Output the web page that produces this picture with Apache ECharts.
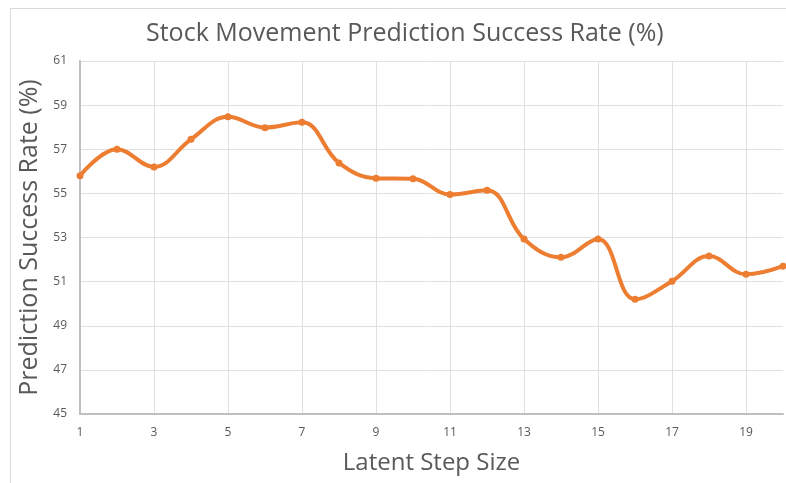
<!DOCTYPE html>
<html>
<head>
<meta charset="utf-8">
<script src="https://cdn.jsdelivr.net/npm/echarts@6/dist/echarts.min.js"></script>
<style>
  html, body { margin: 0; padding: 0; background: #fff; }
  #chart { width: 786px; height: 483px; }
</style>
</head>
<body>
<div id="chart"></div>
<script>
// latent step sizes 1..20
const stepSizes = ['1', '2', '3', '4', '5', '6', '7', '8', '9', '10',
  '11', '12', '13', '14', '15', '16', '17', '18', '19', '20'];
// success rate
const successRate = [55.8, 57.0, 56.2, 57.45, 58.47, 57.98, 58.22, 56.38, 55.69, 55.66,
  54.95, 55.14, 52.93, 52.1, 52.93, 50.2, 51.02, 52.16, 51.33, 51.7];

const textColor = '#595959';
const font = '"Open Sans", "Liberation Sans", sans-serif';

const myChart = echarts.init(document.getElementById('chart'));
myChart.setOption({
  backgroundColor: '#fff',
  animation: false,
  graphic: [{
    type: 'rect',
    shape: { x: 10.5, y: 8.5, width: 800, height: 500 },
    style: { fill: 'none', stroke: '#d9d9d9', lineWidth: 1 },
    silent: true
  }],
  title: {
    text: 'Stock Movement Prediction Success Rate (%)',
    left: 141,
    top: 16,
    textStyle: {
      fontFamily: font,
      fontSize: 25,
      fontWeight: 'normal',
      color: textColor
    }
  },
  grid: {
    left: 80,
    right: 3,
    top: 61,
    bottom: 69
  },
  xAxis: {
    type: 'category',
    data: stepSizes,
    boundaryGap: false,
    name: 'Latent Step Size',
    nameLocation: 'middle',
    nameGap: 37,
    nameTextStyle: { fontFamily: font, fontSize: 24, color: textColor },
    axisLine: { lineStyle: { color: '#bfbfbf', width: 2 } },
    axisTick: { show: false },
    axisLabel: {
      interval: 1,
      margin: 13,
      fontFamily: font,
      fontSize: 12,
      color: textColor
    },
    splitLine: {
      show: true,
      interval: 1,
      lineStyle: { color: '#e0e0e0', width: 1 }
    }
  },
  yAxis: {
    type: 'value',
    min: 45,
    max: 61,
    interval: 2,
    name: 'Prediction Success Rate (%)',
    nameLocation: 'middle',
    nameGap: 37,
    nameTextStyle: { fontFamily: font, fontSize: 25, color: textColor },
    axisLine: { show: true, lineStyle: { color: '#bfbfbf', width: 2 } },
    axisTick: { show: false },
    axisLabel: {
      margin: 13,
      fontFamily: font,
      fontSize: 12,
      color: textColor
    },
    splitLine: { lineStyle: { color: '#e0e0e0', width: 1 } }
  },
  series: [{
    name: 'Success Rate',
    type: 'line',
    data: successRate,
    smooth: 0.4,
    symbol: 'circle',
    symbolSize: 7,
    lineStyle: { color: '#ED7D31', width: 4 },
    itemStyle: { color: '#ED7D31' }
  }]
});
</script>
</body>
</html>
